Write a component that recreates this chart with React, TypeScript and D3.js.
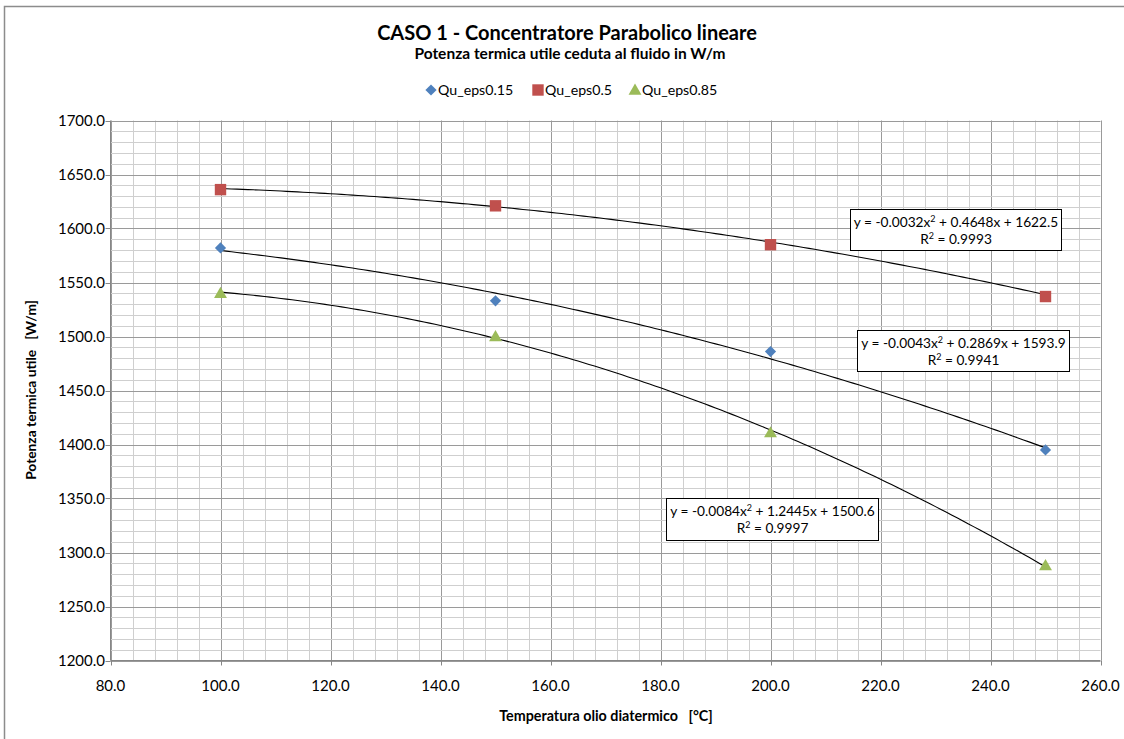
import React from 'react';
import * as d3 from 'd3';

const temps = [100, 150, 200, 250];
const eps015 = [1582, 1533, 1486, 1395];
const eps05 = [1636, 1621, 1585, 1537];
const eps085 = [1540, 1500, 1411, 1288];

// trendline coefficients as printed on the chart: a x^2 + b x + c
const fit015 = [-0.0043, 0.2869, 1593.9];
const fit05 = [-0.0032, 0.4648, 1622.5];
const fit085 = [-0.0084, 1.2445, 1500.6];

const xTicks = [80, 100, 120, 140, 160, 180, 200, 220, 240, 260];
const yTicks = [1200, 1250, 1300, 1350, 1400, 1450, 1500, 1550, 1600, 1650, 1700];

const FONT = 'Lato, "Open Sans", sans-serif';
const BLUE = '#4f81bd';
const RED = '#c0504d';
const GREEN = '#9bbb59';

const W = 1124;
const H = 739;
const plot = { left: 110.5, right: 1100.5, top: 120.5, bottom: 660.5 };

const x = d3.scaleLinear().domain([80, 260]).range([plot.left, plot.right]);
const y = d3.scaleLinear().domain([1200, 1700]).range([plot.bottom, plot.top]);

const poly = (k: number[]) => (t: number) => k[0] * t * t + k[1] * t + k[2];

const trendPath = (k: number[]) => {
  const f = poly(k);
  const pts = d3.range(100, 250.5, 1).map((t) => [t, f(t)] as [number, number]);
  return d3.line<[number, number]>().x((d) => x(d[0])).y((d) => y(d[1]))(pts) || '';
};

const diamond = d3.symbol().type(d3.symbolDiamond2).size(80)();
const square = d3.symbol().type(d3.symbolSquare).size(130)();
const triangle = d3.symbol().type(d3.symbolTriangle).size(72)();

const Marker = ({ kind, cx, cy }: { kind: string; cx: number; cy: number }) => {
  if (kind === 'diamond') return <path d={diamond} transform={`translate(${cx},${cy})`} fill={BLUE} />;
  if (kind === 'square') return <path d={square} transform={`translate(${cx},${cy})`} fill={RED} />;
  return <path d={triangle} transform={`translate(${cx},${cy + 1})`} fill={GREEN} />;
};

const EqBox = ({ x0, y0, w, h, eq, r2 }: { x0: number; y0: number; w: number; h: number; eq: React.ReactNode; r2: string }) => (
  <g>
    <rect x={x0} y={y0} width={w} height={h} fill="#fff" stroke="#000" strokeWidth={1} />
    <text x={x0 + w / 2} y={y0 + 17} textAnchor="middle" fontSize={13.7} fontFamily={FONT} fill="#000">{eq}</text>
    <text x={x0 + w / 2} y={y0 + 34.5} textAnchor="middle" fontSize={13.7} fontFamily={FONT} fill="#000">
      R<tspan fontSize={9} dy={-5}>2</tspan><tspan dy={5}> = {r2}</tspan>
    </text>
  </g>
);

const eqText = (k: number[]) => (
  <>
    {`y = ${k[0]}x`}<tspan fontSize={9} dy={-5}>2</tspan><tspan dy={5}>{` + ${k[1]}x + ${k[2]}`}</tspan>
  </>
);

export default function App() {
  const minorX = d3.range(80, 260.1, 4);
  const minorY = d3.range(1200, 1700.1, 10);
  const series = [
    { name: 'Qu_eps0.15', vals: eps015, kind: 'diamond', fit: fit015 },
    { name: 'Qu_eps0.5', vals: eps05, kind: 'square', fit: fit05 },
    { name: 'Qu_eps0.85', vals: eps085, kind: 'triangle', fit: fit085 },
  ];
  const legendX = [431, 538, 635];

  return (
    <svg width={W} height={H} style={{ position: 'absolute', left: 0, top: 0, background: '#fff' }}>
      <rect x={4.5} y={6.5} width={W + 10} height={H + 10} fill="#fff" stroke="#8c8c8c" strokeWidth={1.5} />

      <text x={567} y={40} textAnchor="middle" fontSize={20} fontWeight="bold" fontFamily={FONT}>CASO 1 - Concentratore Parabolico lineare</text>
      <text x={570} y={59} textAnchor="middle" fontSize={15.5} fontWeight="bold" fontFamily={FONT}>Potenza termica utile ceduta al fluido in W/m</text>

      {series.map((s, i) => (
        <g key={s.name}>
          <Marker kind={s.kind} cx={legendX[i]} cy={90} />
          <text x={legendX[i] + 7} y={95} fontSize={14.2} fontFamily={FONT}>{s.name}</text>
        </g>
      ))}

      {/* grid */}
      {minorX.map((v) => (
        <line key={'mx' + v} x1={Math.round(x(v)) + 0.5} x2={Math.round(x(v)) + 0.5} y1={plot.top} y2={plot.bottom}
          stroke={v % 20 === 0 ? '#9a9a9a' : '#cfcfcf'} strokeWidth={1} />
      ))}
      {minorY.map((v) => (
        <line key={'my' + v} x1={plot.left} x2={plot.right} y1={Math.round(y(v)) + 0.5} y2={Math.round(y(v)) + 0.5}
          stroke={v % 50 === 0 ? '#9a9a9a' : '#cfcfcf'} strokeWidth={1} />
      ))}

      {/* axes */}
      <line x1={plot.left} x2={plot.left} y1={plot.top} y2={plot.bottom} stroke="#868686" />
      <line x1={plot.left} x2={plot.right} y1={plot.bottom} y2={plot.bottom} stroke="#868686" />
      {yTicks.map((v) => (
        <g key={'yt' + v}>
          <line x1={plot.left - 5} x2={plot.left} y1={Math.round(y(v)) + 0.5} y2={Math.round(y(v)) + 0.5} stroke="#868686" />
          <text x={105} y={y(v) + 5} textAnchor="end" fontSize={15} fontFamily={FONT}>{v.toFixed(1)}</text>
        </g>
      ))}
      {xTicks.map((v) => (
        <g key={'xt' + v}>
          <line x1={Math.round(x(v)) + 0.5} x2={Math.round(x(v)) + 0.5} y1={plot.bottom} y2={plot.bottom + 5} stroke="#868686" />
          <text x={x(v)} y={691} textAnchor="middle" fontSize={15} fontFamily={FONT}>{v.toFixed(1)}</text>
        </g>
      ))}

      <text x={606} y={721} textAnchor="middle" fontSize={14.3} fontWeight="bold" fontFamily={FONT} xmlSpace="preserve">
        Temperatura olio diatermico   [°C]
      </text>
      <text transform="translate(36,390) rotate(-90)" textAnchor="middle" fontSize={13.8} fontWeight="bold" fontFamily={FONT} xmlSpace="preserve">
        Potenza termica utile   [W/m]
      </text>

      {/* trendlines */}
      {series.map((s) => (
        <path key={'tr' + s.name} d={trendPath(s.fit)} fill="none" stroke="#000" strokeWidth={1.1} />
      ))}

      {/* points */}
      {series.map((s) => (
        <g key={'pts' + s.name}>
          {s.vals.map((v, i) => (
            <Marker key={i} kind={s.kind} cx={x(temps[i])} cy={y(v)} />
          ))}
        </g>
      ))}

      <EqBox x0={850.5} y0={209.5} w={211} h={41} eq={eqText(fit05)} r2="0.9993" />
      <EqBox x0={857.5} y0={330.5} w={212} h={41} eq={eqText(fit015)} r2="0.9941" />
      <EqBox x0={666.5} y0={498.5} w={212} h={42} eq={eqText(fit085)} r2="0.9997" />
    </svg>
  );
}
